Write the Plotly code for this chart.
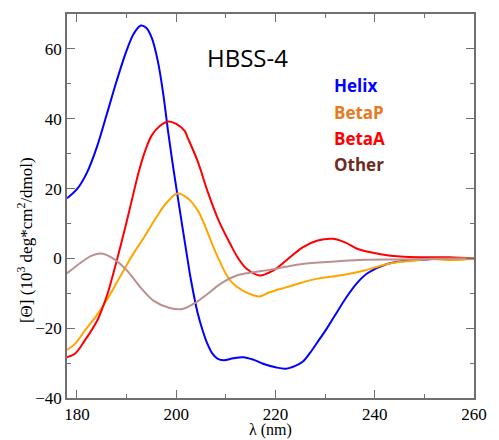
import plotly.graph_objects as go

# ---- data ----
helix_x = [178, 180, 182, 184, 186, 188, 190, 191.5, 192.9, 194, 195.1, 196.3, 197.4, 198.4, 199.3,
           200.2, 202.2, 203, 204.3, 205.3, 206.3, 207.3, 208.3, 209.6, 211.5, 213.5, 215.5, 217.5,
           220, 222.1, 224, 225.4, 227, 228.7, 230.3, 232, 234.6, 236.6, 238.6, 242.5, 247.8, 251.7, 260]
helix_y = [17.2, 19.8, 24.5, 31.8, 41.2, 50.8, 59.5, 64.5, 66.7, 66, 63.1, 56.5, 47, 36, 27,
           18.6, 0.5, -6.4, -15.5, -20.5, -24.5, -27.3, -28.7, -29.2, -28.6, -28.3, -29, -30.2,
           -31.2, -31.6, -30.8, -29.7, -27, -23.5, -20.2, -16.3, -10.5, -6.8, -4.2, -1.6, -0.5, -0.2, 0]

betap_x = [178, 179.6, 181.6, 184.2, 186.2, 188.2, 189.6, 191, 193.5, 196.1, 198.1, 200.3, 202.5, 204.4,
           205.6, 206.3, 208.4, 210.9, 213.5, 216.8, 218.8, 222.1, 225.4, 228.5, 231.5, 234.6, 237.9, 241.2,
           244.5, 247.8, 251, 255.6, 260]
betap_y = [-26.2, -24.5, -20.7, -15.9, -11.5, -6.5, -3, 0.5, 6, 12, 16, 18.6, 17, 13.6,
           10, 7.5, 0.3, -6.4, -9.3, -10.9, -9.7, -8.3, -6.9, -5.8, -5.2, -4.5, -3.5, -2.1,
           -1.1, -0.7, -0.2, -0.5, -0.1]

betaa_x = [178, 179.6, 181.6, 184.2, 185.2, 186.2, 188.2, 190.5, 192.5, 193.8, 195.1, 196.7, 198.4,
           200, 201.7, 202.3, 204.3, 206.3, 208.3, 210.9, 212.5, 214.2, 216.8, 219.5, 222.1, 225.4, 228.5,
           231.5, 234, 236.6, 241.2, 245.2, 250, 255, 260]
betaa_y = [-28.3, -27.3, -23.5, -17.5, -14, -10, 0.3, 13.3, 25, 31, 35.3, 37.9, 39.2,
           38.5, 36.5, 34.6, 27.9, 19.3, 11.7, 4.1, 0, -3, -4.9, -3.5, -0.7, 3.1, 5.1,
           5.6, 4.6, 2.7, 1.2, 0.5, 0.3, 0.3, 0]

other_x = [178, 180.9, 183, 184.9, 187.5, 190.1, 192.8, 195.4, 198.7, 201.3, 204, 206.3, 208.9, 212.2,
           215.5, 218.8, 222.1, 225.4, 232, 237.9, 245, 252, 260]
other_y = [-4.3, -1.1, 0.8, 1.4, -0.2, -3.5, -8.3, -12.1, -14.2, -14.5, -12.6, -10.2, -7.3, -4.9,
           -4.0, -3.3, -2.4, -1.6, -0.9, -0.4, -0.3, -0.1, 0]

series = [
    ("Helix", helix_x, helix_y, "#0000ff", "#0000ff"),
    ("BetaP", betap_x, betap_y, "#ffa500", "#e8791e"),
    ("BetaA", betaa_x, betaa_y, "#ff0000", "#ff0000"),
    ("Other", other_x, other_y, "#bc9090", "#6b2c22"),
]

x_ticks = [180, 200, 220, 240, 260]
y_ticks = [-40, -20, 0, 20, 40, 60]

SERIF = "Liberation Serif, Times New Roman, serif"

fig = go.Figure()
for name, xs, ys, lc, tc in series:
    fig.add_trace(go.Scatter(x=xs, y=ys, mode="lines", name=name,
                             line=dict(color=lc, width=2, shape="spline", smoothing=1.0),
                             showlegend=False))

axis_common = dict(
    showline=True, linecolor="#707070", linewidth=1.5, mirror="ticks",
    ticks="inside", ticklen=8, tickwidth=1.2, tickcolor="#707070",
    showgrid=False, zeroline=False,
    tickfont=dict(family=SERIF, size=17, color="black"),
)

fig.update_xaxes(range=[178, 260], tickvals=x_ticks,
                 minor=dict(dtick=10, tick0=180, ticks="inside", ticklen=4, tickcolor="#707070", tickwidth=1.2),
                 **axis_common)
fig.update_yaxes(range=[-40, 70], tickvals=y_ticks, ticklabelstandoff=0,
                 minor=dict(dtick=10, tick0=0, ticks="inside", ticklen=4, tickcolor="#707070", tickwidth=1.2),
                 **axis_common)

L, R, T, B = 67, 18, 13, 42
W, H = 499, 440
pw, ph = W - L - R, H - T - B


def px(xp):
    return (xp - L) / pw


def py(yp):
    return (H - B - yp) / ph


annotations = [
    dict(text="HBSS-4", x=px(251), y=py(57), xref="paper", yref="paper", showarrow=False,
         font=dict(family="Open Sans", size=24, color="black"), xanchor="center", yanchor="middle"),
    dict(text="λ (nm)", x=px(274), y=py(430.5), xref="paper", yref="paper", showarrow=False,
         font=dict(family=SERIF, size=16, color="black"), xanchor="center", yanchor="middle"),
    dict(text="[Θ] (10<sup>3</sup> deg*cm<sup>2</sup>/dmol)", x=px(25), y=py(240), xref="paper", yref="paper",
         showarrow=False, textangle=-90,
         font=dict(family=SERIF, size=17, color="black"), xanchor="center", yanchor="middle"),
]
leg_y = [85, 111.7, 138, 164]
for (name, xs, ys, lc, tc), yy in zip(series, leg_y):
    annotations.append(dict(text="<b>%s</b>" % name, x=px(337), y=py(yy), xref="paper", yref="paper",
                            showarrow=False, xanchor="left", yanchor="middle",
                            font=dict(family="Open Sans", size=17, color=tc)))

fig.update_layout(width=W, height=H, margin=dict(l=L, r=R, t=T, b=B),
                  paper_bgcolor="white", plot_bgcolor="white", showlegend=False,
                  annotations=annotations)

fig.write_html("out.html")
